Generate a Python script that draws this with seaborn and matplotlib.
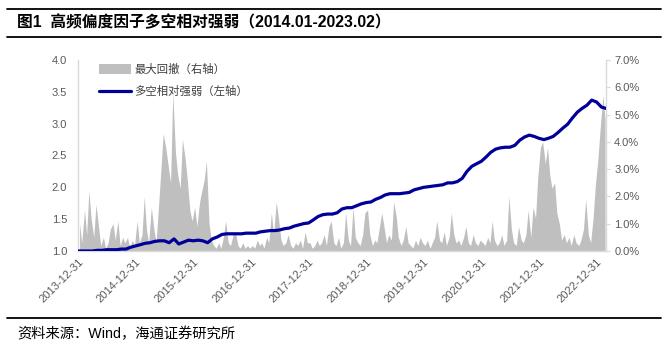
import numpy as np
import pandas as pd
import seaborn as sns
import matplotlib.pyplot as plt
from matplotlib.patches import Patch
from matplotlib.lines import Line2D

# 多空相对强弱（左轴），月末值 2013-12 ~ 2023-02
strength = [
    1.00, 1.00, 1.00, 1.00, 1.01, 1.01, 1.02, 1.02, 1.02, 1.03, 1.03, 1.06,
    1.08, 1.10, 1.12, 1.13, 1.15, 1.16, 1.16, 1.13, 1.19, 1.11, 1.14, 1.17,
    1.16, 1.17, 1.16, 1.13, 1.19, 1.22, 1.26, 1.27, 1.27, 1.27, 1.27, 1.28,
    1.28, 1.28, 1.30, 1.31, 1.32, 1.32, 1.33, 1.35, 1.36, 1.39, 1.41, 1.43,
    1.44, 1.49, 1.54, 1.57, 1.58, 1.58, 1.60, 1.66, 1.68, 1.68, 1.71, 1.74,
    1.76, 1.77, 1.81, 1.84, 1.88, 1.90, 1.90, 1.90, 1.91, 1.92, 1.96, 1.98,
    2.00, 2.01, 2.02, 2.03, 2.04, 2.07, 2.07, 2.09, 2.14, 2.25, 2.33, 2.37,
    2.41, 2.48, 2.55, 2.60, 2.62, 2.63, 2.63, 2.66, 2.74, 2.79, 2.82, 2.80,
    2.77, 2.75, 2.77, 2.80, 2.86, 2.93, 2.99, 3.09, 3.18, 3.24, 3.29, 3.37,
    3.34, 3.26, 3.24,
]

# 最大回撤（右轴，%），半月值 2014-01 ~ 2023-02
dd_2014 = [1.0, 0.3, 1.5, 0.6, 2.2, 1.2, 0.5, 1.7, 0.9, 0.2, 0.5, 0.1,
           0.3, 0.8, 1.0, 0.4, 1.1, 0.2, 0.5, 0.3, 0.5, 0.1, 0.4, 0.2]
dd_2015 = [1.1, 0.3, 0.6, 2.0, 0.8, 0.3, 1.6, 0.9, 0.3, 1.5, 3.0, 4.3,
           3.8, 3.2, 2.5, 5.8, 3.6, 2.8, 2.3, 4.1, 3.4, 2.6, 1.5, 1.1]
dd_2016 = [1.6, 0.9, 1.8, 2.2, 2.6, 3.3, 1.0, 0.4, 0.2, 0.1, 0.3, 0.1,
           0.5, 1.1, 0.3, 0.2, 0.6, 0.7, 0.2, 0.1, 0.3, 0.1, 0.2, 0.1]
dd_2017 = [0.2, 0.1, 0.4, 0.2, 0.3, 0.1, 0.5, 0.3, 1.4, 0.6, 1.8, 1.2,
           0.4, 0.2, 0.3, 0.6, 0.2, 0.1, 0.3, 0.2, 0.4, 0.1, 0.7, 0.3]
dd_2018 = [0.3, 0.1, 0.2, 0.4, 0.2, 0.3, 0.6, 0.2, 0.9, 1.1, 0.3, 0.2,
           0.5, 0.1, 0.3, 1.4, 0.4, 0.2, 1.6, 0.5, 0.3, 0.2, 0.6, 1.4]
dd_2019 = [1.5, 0.6, 0.2, 0.4, 0.3, 0.8, 1.4, 0.9, 0.3, 0.6, 0.4, 1.8,
           1.3, 0.5, 0.2, 0.4, 0.9, 0.3, 0.2, 0.1, 0.4, 0.2, 0.5, 0.3]
dd_2020 = [0.2, 0.4, 0.1, 0.3, 0.5, 1.1, 0.4, 0.3, 0.7, 0.2, 0.5, 1.4,
           0.6, 0.3, 0.4, 0.2, 0.5, 0.9, 0.3, 0.2, 0.6, 0.3, 0.2, 0.4]
dd_2021 = [0.3, 0.2, 0.5, 0.3, 1.1, 0.4, 0.2, 0.3, 0.6, 0.2, 0.4, 2.0,
           0.8, 0.3, 0.2, 0.9, 0.4, 0.3, 0.6, 1.5, 0.5, 1.6, 1.2, 2.7]
dd_2022 = [3.8, 4.0, 3.2, 3.8, 2.8, 2.3, 2.5, 1.4, 1.0, 0.4, 0.6, 0.3,
           0.5, 0.2, 0.6, 0.3, 0.2, 0.4, 0.8, 1.9, 0.6, 0.3, 1.2, 2.4]
dd_2023 = [3.4, 4.5, 5.7, 4.8]

tick_years = list(range(2013, 2023))
left_ticks = [1.0, 1.5, 2.0, 2.5, 3.0, 3.5, 4.0]
right_ticks = [0, 1, 2, 3, 4, 5, 6, 7]

title = "图1  高频偏度因子多空相对强弱（2014.01-2023.02）"
source = "资料来源：Wind，海通证券研究所"
label_dd = "最大回撤（右轴）"
label_line = "多空相对强弱（左轴）"

drawdown = (dd_2014 + dd_2015 + dd_2016 + dd_2017 + dd_2018 + dd_2019
            + dd_2020 + dd_2021 + dd_2022 + dd_2023)
line_df = pd.DataFrame({
    "date": pd.date_range("2013-12-31", periods=len(strength), freq="ME"),
    "value": strength,
})
dd_df = pd.DataFrame({
    "date": pd.date_range("2014-01-01", periods=len(drawdown), freq="SMS") + pd.Timedelta(days=8),
    "value": drawdown,
})

sns.set_style("white")
plt.rcParams["font.family"] = ["Liberation Sans", "Noto Sans CJK SC", "DejaVu Sans"]

GRAY = "#bfbfbf"
BLUE = "#000099"
TXT = "#595959"

fig = plt.figure(figsize=(6.68, 3.53), dpi=100)
ax = fig.add_axes([0.117, 0.289, 0.79, 0.541])
ax2 = ax.twinx()

# drawdown area on the right axis
ax2.fill_between(dd_df["date"], 0, dd_df["value"], color=GRAY, lw=0)
ax2.set_ylim(0, 7)
ax2.set_yticks(right_ticks)
ax2.set_yticklabels([f"{v:.1f}%" for v in right_ticks])

# line on the left axis, drawn above the area
ax.set_zorder(ax2.get_zorder() + 1)
ax.patch.set_visible(False)
sns.lineplot(data=line_df, x="date", y="value", ax=ax, color=BLUE, lw=2.3)
ax.set_ylim(1.0, 4.0)
ax.set_yticks(left_ticks)
ax.set_yticklabels([f"{v:.1f}" for v in left_ticks])
ax.set_xlabel("")
ax.set_ylabel("")

xmin, xmax = pd.Timestamp("2013-12-31"), pd.Timestamp("2023-02-28")
ax.set_xlim(xmin, xmax)
ax2.set_xlim(xmin, xmax)
xt = [pd.Timestamp(f"{y}-12-31") for y in tick_years]
ax.set_xticks(xt)
ax.set_xticklabels([f"{y}-12-31" for y in tick_years], rotation=45,
                   ha="right", rotation_mode="anchor")

for a in (ax, ax2):
    for s in a.spines.values():
        s.set_visible(False)
for s in ("left", "right", "bottom"):
    ax2.spines[s].set_visible(True)
    ax2.spines[s].set_color("#d9d9d9")
    ax2.spines[s].set_linewidth(1.0)

ax.tick_params(axis="y", length=0, labelsize=8, labelcolor=TXT, pad=8)
ax.tick_params(axis="x", length=0, labelsize=8, labelcolor=TXT, pad=4)
ax2.tick_params(axis="y", length=3, color="#d9d9d9", labelsize=8,
                labelcolor=TXT, pad=3)

handles = [Patch(facecolor=GRAY, edgecolor="none"),
           Line2D([0], [0], color=BLUE, lw=2.3)]
ax.legend(handles, [label_dd, label_line], loc="upper left",
          bbox_to_anchor=(0.02, 1.035), frameon=False, fontsize=8.2,
          handlelength=2.8, handleheight=0.9, labelspacing=0.95,
          handletextpad=0.3, labelcolor="#404040")

# title block and source
fig.add_artist(Line2D([0.01, 0.99], [0.974, 0.974], color="black", lw=1.3))
fig.add_artist(Line2D([0.01, 0.99], [0.895, 0.895], color="black", lw=1.3))
fig.text(0.026, 0.938, title, fontsize=11.3, fontweight="bold",
         va="center", ha="left", color="black")
fig.add_artist(Line2D([0.01, 0.99], [0.099, 0.099], color="black", lw=1.3))
fig.text(0.026, 0.054, source, fontsize=10.3, va="center", ha="left",
         color="black")

fig.savefig("out.png", dpi=100)
